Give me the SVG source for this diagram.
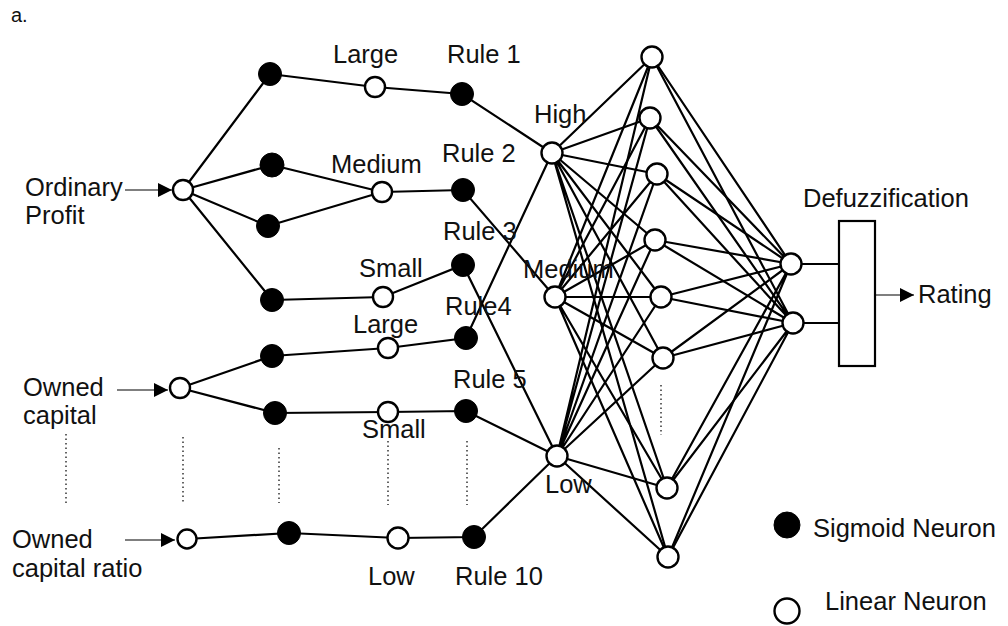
<svg xmlns="http://www.w3.org/2000/svg" width="1008" height="626" viewBox="0 0 1008 626">
<defs>
<style>
.e{stroke:#000;stroke-width:2.2;fill:none}
.in{stroke:#555;stroke-width:1.5;fill:none}
.dot{stroke:#333;stroke-width:1.5;stroke-dasharray:1.5 3;fill:none}
.s{fill:#000;stroke:#000;stroke-width:1}
.l{fill:#fff;stroke:#000;stroke-width:2.4}
text{font-family:"Liberation Sans",Arial,sans-serif;font-size:25.5px;fill:#111}
</style>
<marker id="ah" viewBox="0 0 10 10" refX="10" refY="5" markerWidth="24" markerHeight="14" markerUnits="userSpaceOnUse" orient="auto"><path d="M0,0 L10,5 L0,10 z" fill="#000"/></marker>
</defs>
<rect width="1008" height="626" fill="#fff"/>
<text x="11" y="22" style="font-size:20px">a.</text>
<g id="connectors">
<line class="in" x1="125" y1="190" x2="172" y2="190" marker-end="url(#ah)"/>
<line class="in" x1="117" y1="390" x2="168" y2="390" marker-end="url(#ah)"/>
<line class="in" x1="125" y1="540" x2="175" y2="540" marker-end="url(#ah)"/>
<line class="in" x1="875" y1="295" x2="914" y2="295" marker-end="url(#ah)"/>
<path class="e" d="M183,190 L270,74 M183,190 L272,165 M183,190 L268,226 M183,190 L272,300"/>
<path class="e" d="M270,74 L375,87 L462,94 L552,153"/>
<path class="e" d="M272,165 L382,192 M268,226 L382,192 M382,192 L463,190 L555,297"/>
<path class="e" d="M272,300 L383,297 L463,265 L557,456"/>
<path class="e" d="M180,388 L272,356 M180,388 L275,413"/>
<path class="e" d="M272,356 L388,348 L466,338 L552,153"/>
<path class="e" d="M275,413 L388,412 L466,411 L557,456"/>
<path class="e" d="M187,539 L289,533 L398,538 L474,537 L557,456"/>
<path class="e" d="M552,153 L652,57 M552,153 L650,118 M552,153 L657,174 M552,153 L655,240 M552,153 L661,297 M552,153 L663,358 M552,153 L667,488 M552,153 L668,557"/>
<path class="e" d="M555,297 L652,57 M555,297 L650,118 M555,297 L657,174 M555,297 L655,240 M555,297 L661,297 M555,297 L663,358 M555,297 L667,488 M555,297 L668,557"/>
<path class="e" d="M557,456 L652,57 M557,456 L650,118 M557,456 L657,174 M557,456 L655,240 M557,456 L661,297 M557,456 L663,358 M557,456 L667,488 M557,456 L668,557"/>
<path class="e" d="M652,57 L791,264 M650,118 L791,264 M657,174 L791,264 M655,240 L791,264 M661,297 L791,264 M663,358 L791,264 M667,488 L791,264 M668,557 L791,264"/>
<path class="e" d="M652,57 L793,323 M650,118 L793,323 M657,174 L793,323 M655,240 L793,323 M661,297 L793,323 M663,358 L793,323 M667,488 L793,323 M668,557 L793,323"/>
<path class="e" d="M791,264 L839,264 M793,323 L839,323"/>
<path class="dot" d="M66,434 V504 M183,437 V502 M279,448 V503 M388,441 V505 M467,441 V505 M661,385 V435"/>
</g>
<g id="n-op-in"><circle class="l" cx="183" cy="190" r="10"/></g>
<g id="n-op-s1"><circle class="s" cx="270" cy="74" r="11.5"/></g>
<g id="n-op-s2"><circle class="s" cx="272" cy="165" r="12"/></g>
<g id="n-op-s3"><circle class="s" cx="268" cy="226" r="11.5"/></g>
<g id="n-op-s4"><circle class="s" cx="272" cy="300" r="11.5"/></g>
<g id="n-op-large"><circle class="l" cx="375" cy="87" r="10"/></g>
<g id="n-op-medium"><circle class="l" cx="382" cy="192" r="10"/></g>
<g id="n-op-small"><circle class="l" cx="383" cy="297" r="10"/></g>
<g id="n-rule1"><circle class="s" cx="462" cy="94" r="11.5"/></g>
<g id="n-rule2"><circle class="s" cx="463" cy="190" r="11.5"/></g>
<g id="n-rule3"><circle class="s" cx="463" cy="265" r="11.5"/></g>
<g id="n-rule4"><circle class="s" cx="466" cy="338" r="11.5"/></g>
<g id="n-rule5"><circle class="s" cx="466" cy="411" r="11.5"/></g>
<g id="n-rule10"><circle class="s" cx="474" cy="537" r="11.5"/></g>
<g id="n-oc-in"><circle class="l" cx="180" cy="388" r="10"/></g>
<g id="n-oc-s1"><circle class="s" cx="272" cy="356" r="11.5"/></g>
<g id="n-oc-s2"><circle class="s" cx="275" cy="413" r="11.5"/></g>
<g id="n-oc-large"><circle class="l" cx="388" cy="348" r="10"/></g>
<g id="n-oc-small"><circle class="l" cx="388" cy="412" r="10"/></g>
<g id="n-ocr-in"><circle class="l" cx="187" cy="539" r="9.5"/></g>
<g id="n-ocr-s"><circle class="s" cx="289" cy="533" r="11.5"/></g>
<g id="n-ocr-low"><circle class="l" cx="398" cy="538" r="10.5"/></g>
<g id="n-high"><circle class="l" cx="552" cy="153" r="10.5"/></g>
<g id="n-medium"><circle class="l" cx="555" cy="297" r="10.5"/></g>
<g id="n-low"><circle class="l" cx="557" cy="456" r="10.5"/></g>
<g id="n-h1"><circle class="l" cx="652" cy="57" r="10.5"/></g>
<g id="n-h2"><circle class="l" cx="650" cy="118" r="10.5"/></g>
<g id="n-h3"><circle class="l" cx="657" cy="174" r="10.5"/></g>
<g id="n-h4"><circle class="l" cx="655" cy="240" r="10.5"/></g>
<g id="n-h5"><circle class="l" cx="661" cy="297" r="10.5"/></g>
<g id="n-h6"><circle class="l" cx="663" cy="358" r="10.5"/></g>
<g id="n-h7"><circle class="l" cx="667" cy="488" r="10.5"/></g>
<g id="n-h8"><circle class="l" cx="668" cy="557" r="10.5"/></g>
<g id="n-o1"><circle class="l" cx="791" cy="264" r="10.5"/></g>
<g id="n-o2"><circle class="l" cx="793" cy="323" r="10.5"/></g>
<g id="n-defuzz"><rect x="839" y="221" width="36" height="145" fill="#fff" stroke="#000" stroke-width="2.2"/></g>
<g id="labels">
<text x="25" y="196">Ordinary</text>
<text x="25" y="224">Profit</text>
<text x="23" y="396">Owned</text>
<text x="23" y="424">capital</text>
<text x="12" y="548">Owned</text>
<text x="12" y="577">capital ratio</text>
<text x="333" y="63">Large</text>
<text x="447" y="63">Rule 1</text>
<text x="534" y="123">High</text>
<text x="331" y="173">Medium</text>
<text x="442" y="162">Rule 2</text>
<text x="443" y="240">Rule 3</text>
<text x="359" y="277">Small</text>
<text x="523" y="278">Medium</text>
<text x="445" y="315">Rule4</text>
<text x="353" y="333">Large</text>
<text x="453" y="388">Rule 5</text>
<text x="362" y="438">Small</text>
<text x="545" y="493">Low</text>
<text x="368" y="585">Low</text>
<text x="455" y="585">Rule 10</text>
<text x="803" y="207">Defuzzification</text>
<text x="918" y="303">Rating</text>
</g>
<g id="legend">
<circle class="s" cx="787" cy="525" r="13"/>
<text x="813" y="537">Sigmoid Neuron</text>
<circle fill="#fff" stroke="#000" stroke-width="2.4" cx="787" cy="611" r="12.5"/>
<text x="825" y="610">Linear Neuron</text>
</g>
</svg>
